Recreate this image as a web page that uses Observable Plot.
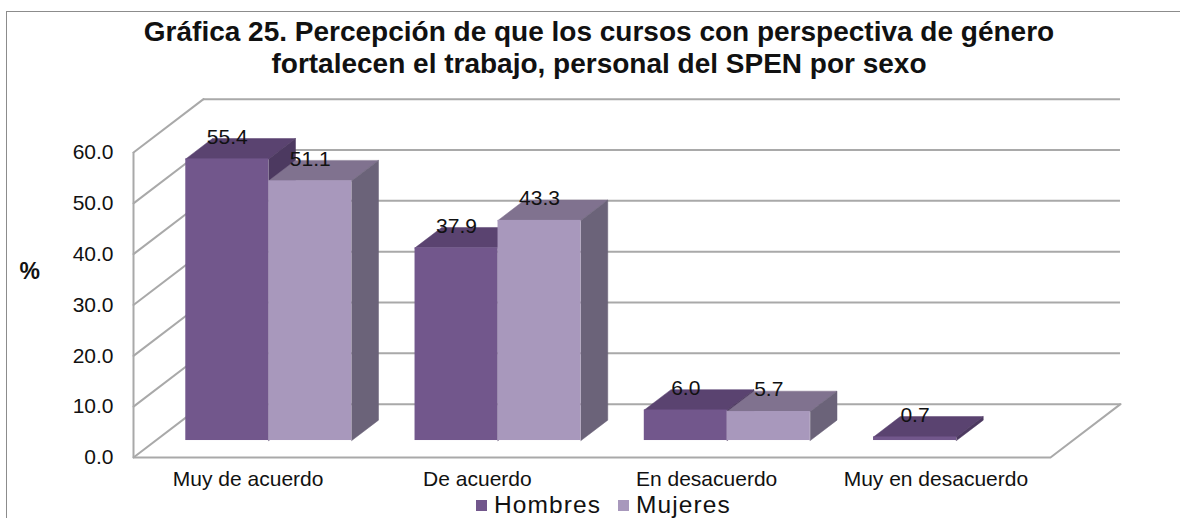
<!DOCTYPE html>
<html lang="es">
<head>
<meta charset="utf-8">
<script src="https://cdn.jsdelivr.net/npm/d3@7"></script>
<script src="https://cdn.jsdelivr.net/npm/@observablehq/plot@0.6"></script>
<style>
  html, body { margin: 0; padding: 0; background: #fff; overflow: hidden; }
  #page { position: relative; width: 1180px; height: 518px; overflow: hidden; font-family: "Liberation Sans", Arial, sans-serif; color: #111; }
  #frame { position: absolute; left: 6px; top: 11px; right: -4px; bottom: -4px; border: 1.5px solid #8c8c8c; box-sizing: border-box; pointer-events: none; }
  #title { height: 80px; box-sizing: border-box; padding-top: 16px; text-align: center; font-weight: 700; font-size: 28px; line-height: 32px; padding-left: 18px; }
  #chart svg { display: block; }
  #legend { height: 27px; margin-top: -4px; display: flex; font-size: 24.5px; line-height: 27px; letter-spacing: 1.1px; padding-left: 476px; white-space: nowrap; position: relative; }
  #legend span.k { display: inline-block; width: 11px; height: 11px; margin: 9px 7px 0 0; }
  #legend span.t { margin-right: 17px; }
</style>
</head>
<body>
<div id="page">
  <div id="frame"></div>
  <div id="title">Gráfica 25. Percepción de que los cursos con perspectiva de género<br>fortalecen el trabajo, personal del SPEN por sexo</div>
  <div id="chart"></div>
  <div id="legend"></div>
</div>
<script>
const categories = ["Muy de acuerdo", "De acuerdo", "En desacuerdo", "Muy en desacuerdo"];
const hombres = [55.4, 37.9, 6.0, 0.7];
const mujeres = [51.1, 43.3, 5.7, null];
const yTicks = [0, 10, 20, 30, 40, 50, 60];
const seriesNames = ["Hombres", "Mujeres"];
const palette = {
  Hombres: {front: "#72578c", top: "#5a4370", side: "#4c3960"},
  Mujeres: {front: "#a898bc", top: "#80728f", side: "#6b6379"}
};

// Oblique projection: a point at depth d (0 = front, 1 = back wall) is shifted in data units.
const wallDX = 0.3053, wallDY = 10.5;
const px = (u, d) => u + d * wallDX;
const py = (v, d) => v + d * wallDY;
const barGap = 0.131, barW = 0.362, d0 = 0.318, d1 = 0.70;

const grid = yTicks.map(v => ({v}));
const polys = [];
const fronts = [];
const labels = [];
function addBars(values, name, slot) {
  const c = palette[name];
  const rows = {top: [], side: []};
  values.forEach((v, i) => {
    if (v == null) return;
    const a = i + barGap + slot * barW, b = a + barW;
    const x1 = px(a, d0), x2 = px(b, d0), xa = px(a, d1), xb = px(b, d1);
    const y0f = d0 * wallDY, yTop = py(v, d0), y0b = py(0, d1), yTopB = py(v, d1);
    [[x1, yTop], [xa, yTopB], [xb, yTopB], [x2, yTop]].forEach(([x, y]) => rows.top.push({id: i, x, y}));
    [[x2, y0f], [xb, y0b], [xb, yTopB], [x2, yTop]].forEach(([x, y]) => rows.side.push({id: i, x, y}));
    fronts.push({name, x1, x2, y1: y0f, y2: yTop});
    labels.push({x: (x1 + x2) / 2, y: yTop, text: v.toFixed(1)});
  });
  polys.push({rows: rows.top, fill: c.top}, {rows: rows.side, fill: c.side},
             {front: fronts.filter(f => f.name === name), fill: c.front});
}
addBars(hombres, "Hombres", 0);
addBars(mujeres, "Mujeres", 1);

const gridStroke = {stroke: "#a9a9a9", strokeWidth: 2};
const marks = [
  // back wall
  Plot.ruleY(grid, {y: d => py(d.v, 1), x1: px(0, 1), x2: px(4, 1), ...gridStroke}),
  // side wall
  ...yTicks.map(v => Plot.line([[0, v], [px(0, 1), py(v, 1)]], {x: d => d[0], y: d => d[1], ...gridStroke})),
  Plot.ruleX([0], {y1: 0, y2: 60, ...gridStroke}),
  // floor
  Plot.line([[0, 0], [4, 0], [px(4, 1), py(0, 1)]], {x: d => d[0], y: d => d[1], ...gridStroke})
];
polys.forEach(p => {
  if (p.rows) marks.push(Plot.line(p.rows, {x: "x", y: "y", z: "id", fill: p.fill, stroke: p.fill, strokeWidth: 0.5, curve: "linear-closed"}));
  else marks.push(Plot.rect(p.front, {x1: "x1", x2: "x2", y1: "y1", y2: "y2", fill: p.fill}));
});
marks.push(
  Plot.axisY({ticks: yTicks, tickFormat: d => d.toFixed(1), tickSize: 0, tickPadding: 20, fontSize: 21, label: null, fill: "#111"}),
  Plot.axisX({ticks: categories.map((_, i) => i + 0.5), tickFormat: d => categories[d - 0.5], tickSize: 0, tickPadding: 14, fontSize: 21, label: null, fill: "#111"}),
  Plot.text(labels, {x: "x", y: "y", text: "text", dy: -22, fontSize: 21, fill: "#111"}),
  Plot.text(["%"], {frameAnchor: "left", dx: -114, dy: -33, fontSize: 23, fontWeight: 700, fill: "#111"})
);

const chart = Plot.plot({
  width: 1180, height: 415,
  marginLeft: 133, marginRight: 130, marginTop: 72, marginBottom: 38,
  style: {background: "transparent", fontFamily: '"Liberation Sans", Arial, sans-serif', overflow: "visible"},
  x: {domain: [0, 4], axis: null},
  y: {domain: [0, 60], axis: null},
  marks
});
document.getElementById("chart").append(chart);

const legend = document.getElementById("legend");
seriesNames.forEach(n => {
  const k = document.createElement("span"); k.className = "k"; k.style.background = palette[n].front;
  const t = document.createElement("span"); t.className = "t"; t.textContent = n;
  legend.append(k, t);
});
</script>
</body>
</html>
